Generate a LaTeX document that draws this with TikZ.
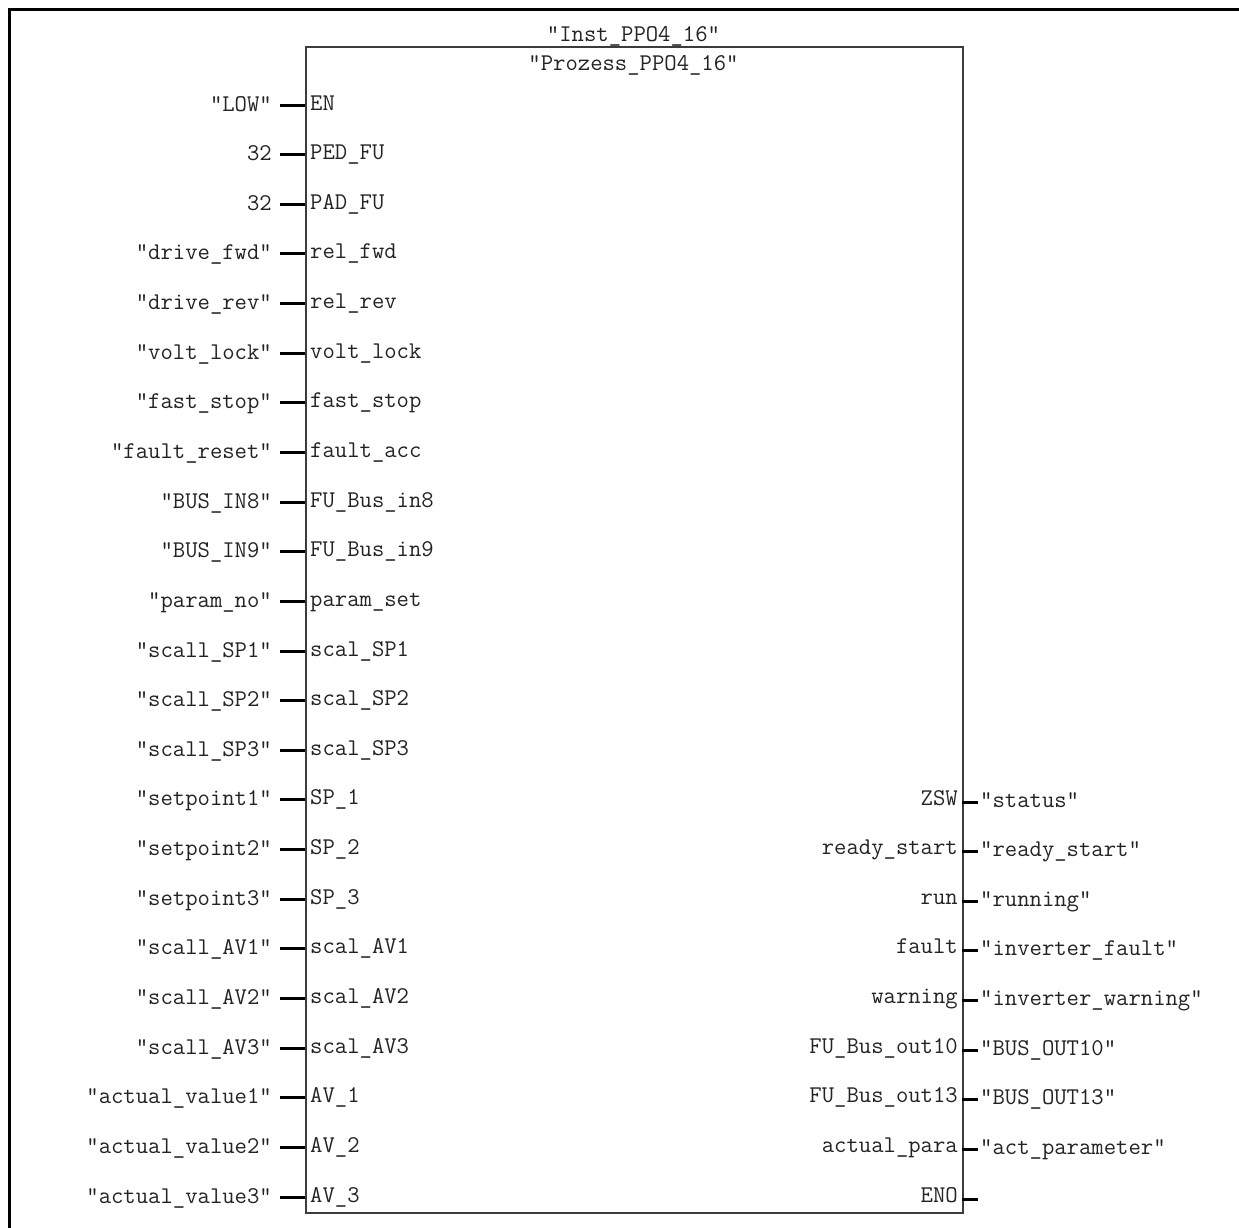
\documentclass[tikz,border=0pt]{standalone}
\usepackage{fontspec}
\definecolor{txtc}{RGB}{35,35,35}
\definecolor{blkc}{RGB}{60,60,60}
\begin{document}
\begin{tikzpicture}[x=1pt,y=-1pt,
  lbl/.style={font=\ttfamily\fontsize{24}{27}\selectfont, text=txtc, inner sep=0pt, text height=14pt, text depth=4pt},
  pinline/.style={line width=3pt, draw=black},
  frameline/.style={line width=3pt, draw=black, line join=miter}]
\useasboundingbox (0,0) rectangle (1239,1227);
\draw[frameline] (9,1245) -- (9,9) -- (1250,9);
\node[draw=blkc, line width=2pt, minimum width=657pt, minimum height=1166pt, anchor=north west, inner sep=0pt] (blk) at (305,46) {};
\node[lbl] (inst) at (633.5,36) {"Inst\_PPO4\_16"};
\node[lbl] (proz) at (633.5,65) {"Prozess\_PPO4\_16"};
\foreach \ext/\pin [count=\i from 0] in {
  {"LOW"}/EN, 32/PED\_FU, 32/PAD\_FU, {"drive\_fwd"}/rel\_fwd, {"drive\_rev"}/rel\_rev,
  {"volt\_lock"}/volt\_lock, {"fast\_stop"}/fast\_stop, {"fault\_reset"}/fault\_acc,
  {"BUS\_IN8"}/FU\_Bus\_in8, {"BUS\_IN9"}/FU\_Bus\_in9, {"param\_no"}/param\_set,
  {"scall\_SP1"}/scal\_SP1, {"scall\_SP2"}/scal\_SP2, {"scall\_SP3"}/scal\_SP3,
  {"setpoint1"}/SP\_1, {"setpoint2"}/SP\_2, {"setpoint3"}/SP\_3,
  {"scall\_AV1"}/scal\_AV1, {"scall\_AV2"}/scal\_AV2, {"scall\_AV3"}/scal\_AV3,
  {"actual\_value1"}/AV\_1, {"actual\_value2"}/AV\_2, {"actual\_value3"}/AV\_3} {
  \pgfmathsetmacro\yy{105+49.636*\i}
  \node[lbl, anchor=east] (in\i) at (272,\yy+1) {\ext};
  \node[lbl, anchor=west, inner xsep=5pt] (pin\i) at (305,\yy) {\pin};
  \draw[pinline] ([xshift=8pt,yshift=1pt]in\i.east) -- (pin\i.west);
}
\foreach \pin/\ext [count=\i from 0] in {
  ZSW/{"status"}, ready\_start/{"ready\_start"}, run/{"running"},
  fault/{"inverter\_fault"}, warning/{"inverter\_warning"},
  FU\_Bus\_out10/{"BUS\_OUT10"}, FU\_Bus\_out13/{"BUS\_OUT13"},
  actual\_para/{"act\_parameter"}} {
  \pgfmathsetmacro\yy{800+49.636*\i}
  \node[lbl, anchor=east, inner xsep=4pt] (opin\i) at (962,\yy) {\pin};
  \node[lbl, anchor=west] (out\i) at (980,\yy+2) {\ext};
  \draw[pinline] ([yshift=-2pt]opin\i.east) -- ([xshift=-2pt]out\i.west);
}
\node[lbl, anchor=east, inner xsep=4pt] (eno) at (962,1197) {ENO};
\coordinate (enoend) at (978,1199);
\draw[pinline] ([yshift=-2pt]eno.east) -- (enoend);
\end{tikzpicture}
\end{document}
